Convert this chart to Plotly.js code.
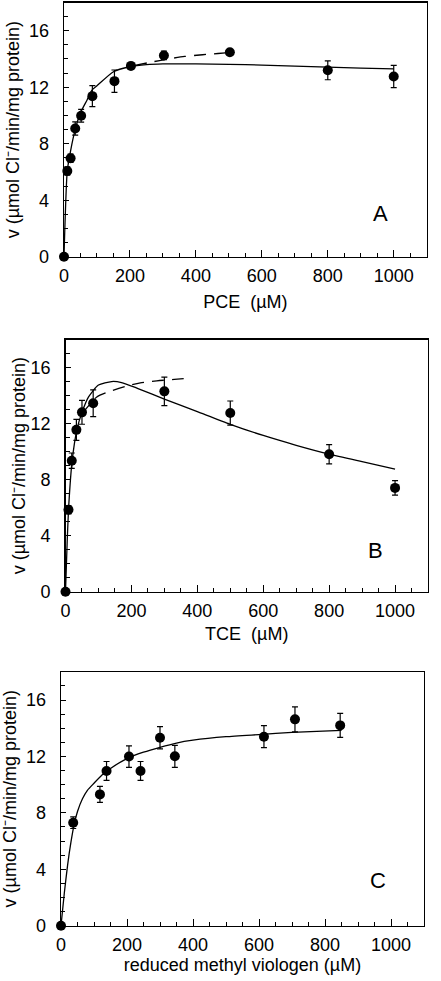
<!DOCTYPE html>
<html>
<head>
<meta charset="utf-8">
<script src="https://cdn.plot.ly/plotly-3.0.1.min.js"></script>
<style>html,body{margin:0;padding:0;background:#fff;}#chart{width:441px;height:981px;}</style>
</head>
<body>
<div id="chart"></div>
<script>
// ---- Panel A: PCE ----
var pceConc = [0, 10, 20, 34, 52, 86, 153, 203, 303, 503, 800, 1000];
var pceRate = [0, 6.07, 6.97, 9.08, 9.98, 11.37, 12.43, 13.51, 14.25, 14.48, 13.2, 12.76];
var pceErr  = [0, 0.3, 0.3, 0.47, 0.45, 0.74, 0.79, 0.15, 0.3, 0.12, 0.67, 0.79];
var pceFitX = [0, 10, 20, 35, 50, 70, 85, 100, 150, 200, 250, 300, 400, 500, 600, 700, 800, 900, 1000];
var pceFitY = [0, 6.1, 7.5, 9.1, 10.2, 11.1, 11.8, 12.1, 13.1, 13.45, 13.6, 13.65, 13.65, 13.62, 13.57, 13.5, 13.43, 13.36, 13.3];
var pceDashX = [215, 265, 315, 366, 420, 467, 503];
var pceDashY = [13.55, 13.78, 14.0, 14.18, 14.3, 14.39, 14.46];

// ---- Panel B: TCE ----
var tceConc = [0, 9, 19, 33, 50, 84, 300, 500, 800, 1000];
var tceRate = [0, 5.85, 9.35, 11.55, 12.8, 13.45, 14.3, 12.75, 9.81, 7.41];
var tceErr  = [0, 0.3, 0.55, 0.75, 0.85, 0.95, 1.02, 0.86, 0.69, 0.52];
var tceFitX = [0, 5, 10, 20, 35, 50, 70, 100, 140, 170, 220, 300, 400, 500, 600, 700, 800, 900, 1000];
var tceFitY = [0, 3.5, 6.2, 9.3, 11.6, 12.8, 13.9, 14.75, 15.0, 14.93, 14.5, 13.75, 12.85, 11.95, 11.15, 10.45, 9.82, 9.28, 8.75];
var tceDashX = [50, 95, 135, 186, 227, 277, 330, 380];
var tceDashY = [12.7, 13.9, 14.3, 14.68, 14.9, 15.05, 15.15, 15.25];

// ---- Panel C: reduced methyl viologen ----
var mvConc = [0, 37, 118, 138, 206, 241, 300, 345, 615, 709, 846];
var mvRate = [0, 7.3, 9.31, 10.97, 11.99, 10.97, 13.33, 12.01, 13.4, 14.63, 14.2];
var mvErr  = [0, 0.41, 0.57, 0.67, 0.76, 0.67, 0.79, 0.78, 0.78, 0.89, 0.85];
var mvFitX = [0, 10, 20, 30, 40, 50, 65, 80, 100, 125, 150, 200, 250, 300, 350, 400, 500, 600, 700, 850];
var mvFitY = [0, 2.3, 4.3, 5.9, 7.2, 8.1, 9.0, 9.6, 10.1, 10.7, 11.15, 11.85, 12.3, 12.65, 12.95, 13.15, 13.4, 13.55, 13.7, 13.85];

// ---- Tick labels / titles ----
var xTicks = [0, 200, 400, 600, 800, 1000];
var yTicks = [0, 4, 8, 12, 16];
var yTitle = 'v (µmol Cl\u207B/min/mg protein)\u00a0\u00a0\u00a0\u00a0';
var xTitles = ['PCE\u00a0\u00a0(µM)', 'TCE\u00a0\u00a0(µM)', 'reduced methyl viologen (µM)'];
var panelLetters = ['A', 'B', 'C'];

var FONT = 'Liberation Sans, Arial, Helvetica, sans-serif';

function pts(x, y, err, ax) {
  return {
    x: x, y: y, xaxis: 'x' + ax, yaxis: 'y' + ax, type: 'scatter', mode: 'markers',
    cliponaxis: false,
    marker: {color: '#000', size: 10},
    error_y: {type: 'data', array: err, color: '#000', thickness: 1.2, width: 3}
  };
}
function line(x, y, ax, dash) {
  return {
    x: x, y: y, xaxis: 'x' + ax, yaxis: 'y' + ax, type: 'scatter', mode: 'lines',
    cliponaxis: false, line: {color: '#000', width: 1.3, shape: 'spline', smoothing: 0.6, dash: dash || 'solid'}
  };
}

var data = [
  line(pceFitX, pceFitY, '', 'solid'),
  line(pceDashX, pceDashY, '', '12px,8px'),
  pts(pceConc, pceRate, pceErr, ''),
  line(tceFitX, tceFitY, '2', 'solid'),
  line(tceDashX, tceDashY, '2', '12px,8px'),
  pts(tceConc, tceRate, tceErr, '2'),
  line(mvFitX, mvFitY, '3', 'solid'),
  pts(mvConc, mvRate, mvErr, '3')
];

function xax(dom, anchor, title, standoff) {
  return {
    domain: dom, anchor: anchor, range: [0, 1100], tickvals: xTicks, ticktext: xTicks.map(String),
    ticks: 'inside', ticklen: 7, tickwidth: 1, tickcolor: '#000',
    minor: {dtick: 50, tick0: 0, ticks: 'inside', ticklen: 4, tickwidth: 1, tickcolor: '#000', showgrid: false},
    showline: true, mirror: true, linecolor: '#000', linewidth: 1.3,
    showgrid: false, zeroline: false, ticklabelstandoff: 2,
    tickfont: {family: FONT, size: 18, color: '#000'},
    title: {text: title, standoff: standoff, font: {family: FONT, size: 18, color: '#000'}}
  };
}
function yax(dom, anchor, standoff) {
  return {
    domain: dom, anchor: anchor, range: [0, 18], tickvals: yTicks, ticktext: yTicks.map(String),
    ticks: 'inside', ticklen: 5, tickwidth: 1, tickcolor: '#000',
    minor: {dtick: 1, tick0: 0, ticks: 'inside', ticklen: 4, tickwidth: 1, tickcolor: '#000', showgrid: false},
    showline: true, mirror: true, linecolor: '#000', linewidth: 1.3,
    showgrid: false, zeroline: false, ticklabelstandoff: 10,
    tickfont: {family: FONT, size: 18, color: '#000'},
    title: {text: yTitle, standoff: standoff, font: {family: FONT, size: 18, color: '#000'}}
  };
}

function px(x) { return x / 441; }
function py(y) { return 1 - y / 981; }

var letterPos = [[380, 213], [375, 550], [377.7, 880.7]];
var annotations = letterPos.map(function (p, i) {
  return {xref: 'paper', yref: 'paper', x: px(p[0]), y: py(p[1]), text: panelLetters[i],
    showarrow: false, xanchor: 'center', yanchor: 'middle', font: {family: FONT, size: 22, color: '#000'}};
});

var layout = {
  width: 441, height: 981,
  margin: {l: 0, r: 0, t: 0, b: 0},
  paper_bgcolor: '#fff', plot_bgcolor: '#fff',
  showlegend: false,
  xaxis: xax([px(64), px(426.7)], 'y', xTitles[0], 10),
  yaxis: yax([py(256.7), py(2.5)], 'x', 4),
  xaxis2: xax([px(65.5), px(428)], 'y2', xTitles[1], 7),
  yaxis2: yax([py(591.7), py(339.5)], 'x2', 0),
  xaxis3: xax([px(61), px(424)], 'y3', xTitles[2], 4),
  yaxis3: yax([py(925.7), py(671.8)], 'x3', 4),
  annotations: annotations
};

Plotly.newPlot('chart', data, layout, {staticPlot: true, displayModeBar: false});
</script>
</body>
</html>
